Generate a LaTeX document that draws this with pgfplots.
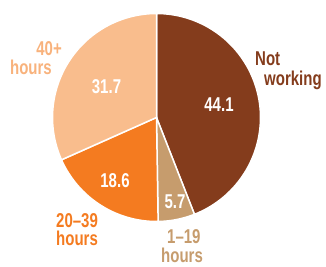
\documentclass[border=0pt]{standalone}
\usepackage{pgfplots}
\pgfplotsset{compat=1.18}
\usepgfplotslibrary{polar}
\usepackage{fontspec}
\setmainfont{Liberation Sans}[FakeStretch=0.75]
\definecolor{cNW}{HTML}{843C1C}
\definecolor{cA}{HTML}{C69C6D}
\definecolor{cB}{HTML}{F47B20}
\definecolor{cC}{HTML}{F9BD8D}
\definecolor{cCt}{HTML}{F8B27C}
% shares (percent), clockwise from 12 o'clock
\def\vNW{44.1}
\def\vA{5.7}
\def\vB{18.6}
\def\vC{31.7}
\pgfmathsetmacro{\tot}{\vNW+\vA+\vB+\vC}
\pgfmathsetmacro{\k}{360/\tot}
\pgfmathsetmacro{\aZ}{90}
\pgfmathsetmacro{\aA}{90-\k*(\vNW)}
\pgfmathsetmacro{\aB}{90-\k*(\vNW+\vA)}
\pgfmathsetmacro{\aC}{90-\k*(\vNW+\vA+\vB)}
\pgfmathsetmacro{\aD}{90-360}
\begin{document}
\begin{tikzpicture}[x=1pt,y=1pt]
\useasboundingbox (0,0) rectangle (326,266);
\begin{polaraxis}[hide axis, scale only axis, width=208pt, height=208pt,
  ymin=0, ymax=104, clip=false, at={(156.5pt,148.5pt)}, anchor=center]
\addplot[fill=cNW, draw=white, line width=1.5pt, domain=\aA:\aZ, samples=80] {104} -- (axis cs:0,0) -- cycle;
\addplot[fill=cA, draw=white, line width=1.5pt, domain=\aB:\aA, samples=20] {104} -- (axis cs:0,0) -- cycle;
\addplot[fill=cB, draw=white, line width=1.5pt, domain=\aC:\aB, samples=40] {104} -- (axis cs:0,0) -- cycle;
\addplot[fill=cC, draw=white, line width=1.5pt, domain=\aD:\aC, samples=60] {104} -- (axis cs:0,0) -- cycle;
\end{polaraxis}
\tikzset{lab/.style={inner sep=0pt, text height=14.6pt, text depth=0pt, font=\fontsize{20}{20}\selectfont\bfseries}}
\node[lab, text=white, anchor=center] at (219,162) {44.1};
\node[lab, text=white, anchor=center] at (106.5,180) {31.7};
\node[lab, text=white, anchor=center] at (115,86) {18.6};
\node[lab, text=white, anchor=center] at (175,65) {5.7};
\node[lab, text=cNW, anchor=base west] at (255,201) {Not};
\node[lab, text=cNW, anchor=base west, text depth=4pt] at (264,181) {working};
\node[lab, text=cCt, anchor=base east] at (62,211) {40+};
\node[lab, text=cCt, anchor=base east] at (52,192) {hours};
\node[lab, text=cB, anchor=base west] at (56,39) {20–39};
\node[lab, text=cB, anchor=base west] at (56,21) {hours};
\node[lab, text=cA, anchor=base west] at (167,23) {1–19};
\node[lab, text=cA, anchor=base west] at (161,4) {hours};
\end{tikzpicture}
\end{document}
